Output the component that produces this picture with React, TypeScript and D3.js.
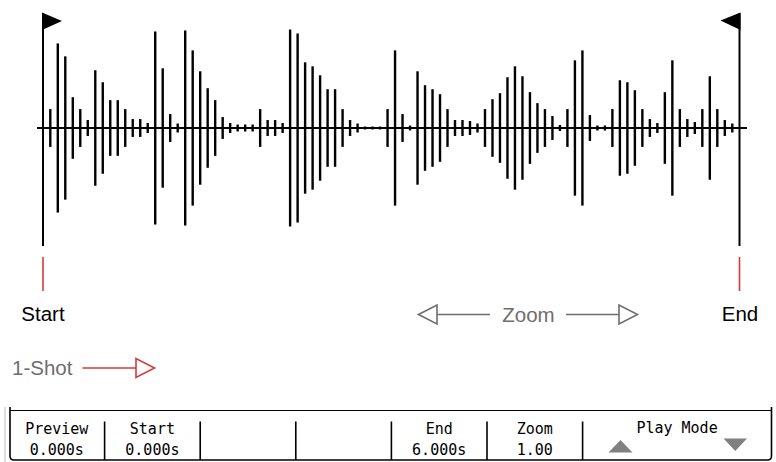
import React from "react";
import * as d3 from "d3";

// Waveform amplitudes (half-height, % of full scale), one per bar
const amplitudes: number[] = [
  19, 85, 72, 31, 19, 8, 58, 46, 28, 28, 19, 9, 9, 5, 97, 60, 14, 4.5, 98, 78,
  57, 40, 28, 11, 5, 3.5, 3.5, 3.5, 19, 8, 8, 5, 99, 95, 66, 62, 53, 39, 39, 19,
  8, 4.5, 1.5, 1.5, 1.5, 19, 78, 14, 2.5, 57, 43, 39, 34, 19, 8, 8, 7, 4.5, 19, 29,
  35, 51, 62, 52, 36, 25, 19, 12, 3, 19, 68, 78, 13, 2.5, 2.5, 19, 48, 46, 38, 19,
  9, 5, 36, 68, 19, 9, 6, 19, 52, 19, 8, 4.5,
];

const markerLabels: string[] = ["Start", "End"];
const panelTitles: string[] = ["Preview", "Start", "", "", "End", "Zoom", "Play Mode"];
const panelValues: string[] = ["0.000s", "0.000s", "", "", "6.000s", "1.00", ""];
const panelSpans: number[] = [1, 1, 1, 1, 1, 1, 2];

const W = 776;
const H = 462;

export default function App() {
  const x = d3
    .scaleLinear()
    .domain([0, amplitudes.length - 1])
    .range([50.3, 732.3]);
  const y = d3.scaleLinear().domain([-100, 100]).range([227.5, 28.5]);
  const cy = y(0);

  const startX = 43;
  const endX = 739.5;

  // panel
  const pL = 10;
  const pR = 771.5;
  const pTop = 410.5;
  const pBot = 460;
  const cellW = 95.6;
  const totalSpan = d3.sum(panelSpans);
  const cellX = d3
    .scaleLinear()
    .domain([0, totalSpan - 1])
    .range([pL - 1, pL - 1 + cellW * (totalSpan - 1)]);
  let acc = 0;
  const cells = panelSpans.map((s, i) => {
    const x0 = cellX(acc);
    acc += s;
    const x1 = i === panelSpans.length - 1 ? pR : cellX(acc);
    return { x0, x1, title: panelTitles[i], value: panelValues[i] };
  });

  const gray = "#6e6e6e";
  const red = "#d9383a";
  const mono = "'DejaVu Sans Mono', monospace";
  const sans = "'Liberation Sans', Arial, sans-serif";

  return (
    <svg
      width={W}
      height={H}
      style={{ position: "absolute", left: 0, top: 0, background: "#fff" }}
    >
      {/* baseline */}
      <line x1={37} x2={747} y1={cy} y2={cy} stroke="#000" strokeWidth={2} />
      {/* bars */}
      {amplitudes.map((a, i) => (
        <line
          key={i}
          x1={x(i)}
          x2={x(i)}
          y1={y(a)}
          y2={y(-a)}
          stroke="#000"
          strokeWidth={2.4}
        />
      ))}
      {/* start flag */}
      <line x1={startX} x2={startX} y1={13} y2={246} stroke="#000" strokeWidth={2} />
      <polygon points={`${startX - 1},12.5 ${startX + 19},21 ${startX - 1},30`} fill="#000" />
      {/* end flag */}
      <line x1={endX} x2={endX} y1={13} y2={246} stroke="#000" strokeWidth={2} />
      <polygon points={`${endX + 1},12.5 ${endX - 19},20.5 ${endX + 1},30`} fill="#000" />
      {/* red markers */}
      <line x1={startX} x2={startX} y1={257} y2={291} stroke={red} strokeWidth={1.6} />
      <line x1={endX} x2={endX} y1={257} y2={291} stroke={red} strokeWidth={1.6} />
      <text x={startX} y={321} textAnchor="middle" fontFamily={sans} fontSize={20.5} fill="#000">
        {markerLabels[0]}
      </text>
      <text x={endX + 0.5} y={321} textAnchor="middle" fontFamily={sans} fontSize={20.5} fill="#000">
        {markerLabels[1]}
      </text>

      {/* Zoom arrows */}
      <g stroke={gray} strokeWidth={1.6} fill="#fff">
        <line x1={437} x2={490} y1={314.5} y2={314.5} />
        <polygon points="418.5,314.5 437,305 437,324" />
        <line x1={566} x2={619} y1={314.5} y2={314.5} />
        <polygon points="637.5,314.5 619,305 619,324" />
      </g>
      <text x={528.5} y={321.5} textAnchor="middle" fontFamily={sans} fontSize={20.5} fill={gray}>
        Zoom
      </text>

      {/* 1-Shot */}
      <text x={12} y={374.5} fontFamily={sans} fontSize={20.5} fill={gray}>
        1-Shot
      </text>
      <g stroke={red} strokeWidth={1.6} fill="#fff">
        <line x1={82.5} x2={136} y1={368} y2={368} />
        <polygon points="154.5,368 136,358.5 136,377.5" />
      </g>

      {/* bottom panel */}
      <line x1={5} x2={5} y1={407} y2={462} stroke="#bbb" strokeWidth={1} />
      <line x1={pL} x2={pR} y1={pTop} y2={pTop} stroke="#000" strokeWidth={1.2} />
      <path
        d={`M${pL},407 L${pL},${pBot - 4} Q${pL},${pBot} ${pL + 4},${pBot} L${pR - 4},${pBot} Q${pR},${pBot} ${pR},${pBot - 4} L${pR},407`}
        fill="none"
        stroke="#000"
        strokeWidth={1.6}
      />
      {cells.slice(1).map((c, i) => (
        <line key={i} x1={c.x0} x2={c.x0} y1={421.5} y2={pBot} stroke="#000" strokeWidth={1.6} />
      ))}
      {cells.map((c, i) => (
        <g key={i}>
          {c.title && (
            <text
              x={(c.x0 + c.x1) / 2}
              y={i === cells.length - 1 ? 432.5 : 433.5}
              textAnchor="middle"
              fontFamily={mono}
              fontSize={15}
              fill="#000"
            >
              {c.title}
            </text>
          )}
          {c.value && (
            <text x={(c.x0 + c.x1) / 2} y={455} textAnchor="middle" fontFamily={mono} fontSize={15} fill="#000">
              {c.value}
            </text>
          )}
        </g>
      ))}
      {/* play mode arrows */}
      <polygon points="608.5,452.5 632.5,452.5 620.5,440" fill="#808080" />
      <polygon points="723.5,438.5 747,438.5 735.25,451" fill="#808080" />
    </svg>
  );
}
